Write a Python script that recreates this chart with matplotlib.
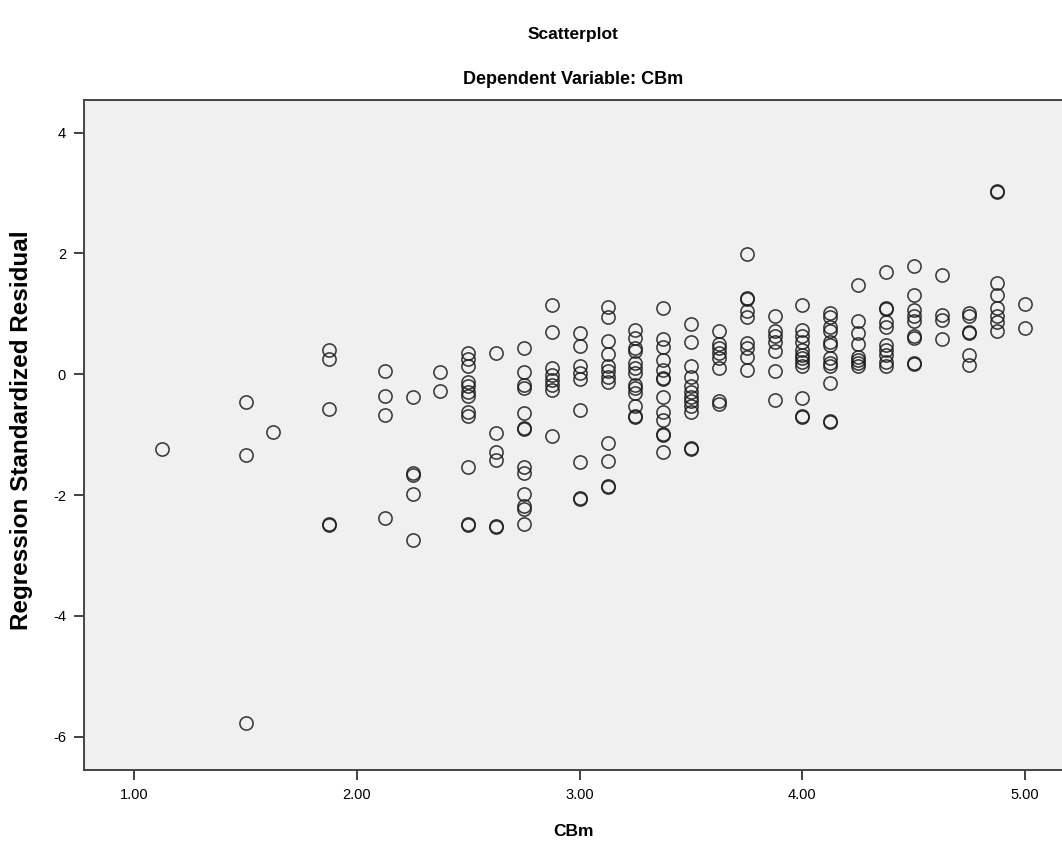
import matplotlib
matplotlib.use('Agg')
import matplotlib.pyplot as plt

# CBm levels (x) and the standardized residuals read at each level
cbm_levels = [1.125, 1.5, 1.625, 1.875, 2.125, 2.25, 2.375, 2.5, 2.625, 2.75,
              2.875, 3.0, 3.125, 3.25, 3.375, 3.5, 3.625, 3.75, 3.875, 4.0,
              4.125, 4.25, 4.375, 4.5, 4.625, 4.75, 4.875, 5.0]

residuals = [
    [-1.24],
    [-0.46, -1.34, -5.77],
    [-0.96],
    [0.41, 0.25, -0.57, -2.47, -2.49],
    [0.05, -0.36, -0.67, -2.38],
    [-0.38, -1.64, -1.67, -1.98, -2.74],
    [0.03, -0.27],
    [0.35, 0.25, 0.14, -0.12, -0.20, -0.29, -0.36, -0.62, -0.69, -1.53, -2.47, -2.49],
    [0.35, -0.97, -1.28, -1.42, -2.51, -2.53],
    [0.43, 0.03, -0.18, -0.22, -0.64, -0.89, -0.91, -1.54, -1.64, -1.98, -2.18, -2.23, -2.48],
    [1.14, 0.70, 0.10, -0.01, -0.09, -0.18, -0.26, -1.02],
    [0.68, 0.47, 0.14, 0.02, -0.07, -0.59, -1.46, -2.04, -2.06],
    [1.12, 0.94, 0.55, 0.33, 0.13, 0.05, -0.04, -0.12, -1.13, -1.44, -1.85, -1.87],
    [0.73, 0.60, 0.43, 0.38, 0.18, 0.10, 0.02, -0.18, -0.23, -0.31, -0.53, -0.69, -0.71],
    [1.09, 0.58, 0.45, 0.23, 0.07, -0.06, -0.08, -0.37, -0.62, -0.75, -0.99, -1.01, -1.29],
    [0.83, 0.54, 0.14, -0.04, -0.20, -0.29, -0.37, -0.45, -0.53, -0.62, -1.22, -1.24],
    [0.71, 0.50, 0.43, 0.35, 0.27, 0.10, -0.45, -0.50],
    [1.99, 1.27, 1.25, 1.04, 0.95, 0.51, 0.43, 0.28, 0.07],
    [0.97, 0.72, 0.64, 0.54, 0.38, 0.06, -0.43],
    [1.15, 0.73, 0.64, 0.54, 0.40, 0.32, 0.27, 0.21, 0.13, -0.40, -0.69, -0.71],
    [1.02, 0.94, 0.79, 0.71, 0.54, 0.49, 0.27, 0.18, 0.13, -0.14, -0.77, -0.79],
    [1.48, 0.89, 0.69, 0.50, 0.29, 0.24, 0.18, 0.13],
    [1.69, 1.10, 1.08, 0.87, 0.79, 0.49, 0.40, 0.32, 0.21, 0.13],
    [1.80, 1.31, 1.07, 0.96, 0.88, 0.64, 0.60, 0.17, 0.18],
    [1.64, 0.98, 0.90, 0.59],
    [1.01, 0.96, 0.70, 0.68, 0.32, 0.16],
    [3.02, 3.04, 1.51, 1.31, 1.09, 0.96, 0.87, 0.72],
    [1.17, 0.76],
]

xticks = [1.0, 2.0, 3.0, 4.0, 5.0]
xtick_labels = ['1.00', '2.00', '3.00', '4.00', '5.00']
yticks = [-6, -4, -2, 0, 2, 4]

xs, ys = [], []
for lvl, vals in zip(cbm_levels, residuals):
    for v in vals:
        xs.append(lvl)
        ys.append(v)

plt.rcParams['font.family'] = ['Liberation Sans', 'DejaVu Sans']
plt.rcParams['axes.unicode_minus'] = False

fig = plt.figure(figsize=(10.62, 8.49), dpi=100)
ax = fig.add_axes([84 / 1062, 79 / 849, 990 / 1062, 670 / 849])
ax.set_facecolor('#f0f0f0')

ax.plot(xs, ys, 'o', ms=9.5, mfc='none', mec='#1a1a1a', mew=1.15, alpha=0.85)

ax.set_xlim(0.774, 5.22)
ax.set_ylim(-6.55, 4.54)
ax.set_xticks(xticks)
ax.set_xticklabels(xtick_labels)
ax.set_yticks(yticks)
ax.tick_params(direction='out', length=7, width=1.3, color='#333333',
               labelsize=10.5, pad=6)
for side in ['left', 'bottom', 'top']:
    ax.spines[side].set_color('#444444')
    ax.spines[side].set_linewidth(1.4)
ax.spines['right'].set_visible(False)

fig.text(573 / 1062, 1 - 35 / 849, 'Scatterplot', ha='center', va='center',
         fontsize=12.5, fontweight='bold')
fig.text(573 / 1062, 1 - 80 / 849, 'Dependent Variable: CBm', ha='center', va='center',
         fontsize=13, fontweight='bold')
fig.text(573 / 1062, 1 - 832 / 849, 'CBm', ha='center', va='center',
         fontsize=12.5, fontweight='bold')
fig.text(22 / 1062, 1 - 430 / 849, 'Regression Standardized Residual', ha='center',
         va='center', rotation=90, fontsize=17.5, fontweight='bold')

fig.savefig('out.png', dpi=100)
